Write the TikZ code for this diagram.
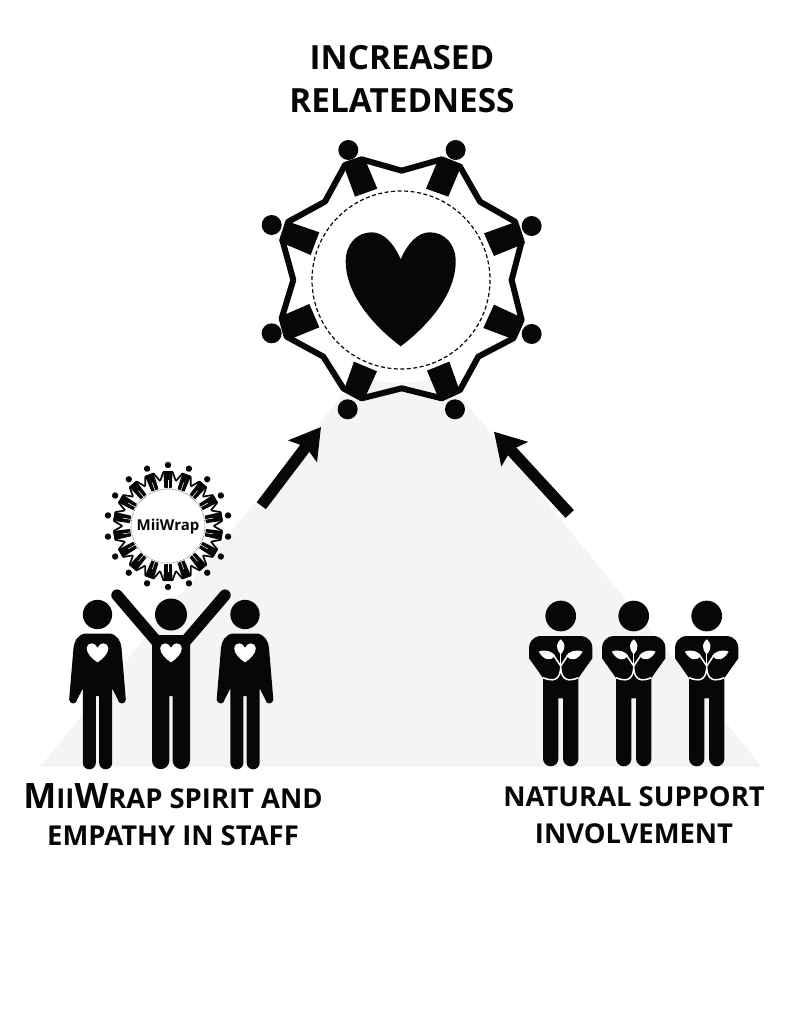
\documentclass[tikz,border=0pt]{standalone}
\usepackage{fontspec}
\setmainfont{Open Sans}
\usetikzlibrary{arrows.meta}
\definecolor{inkblack}{HTML}{060808}
\definecolor{paleback}{HTML}{F4F4F4}
\newcommand{\heartshape}{(0,0) .. controls (-7,-16) and (-17,-27) .. (-29,-27)
  .. controls (-44,-27) and (-55,-15) .. (-55,2)
  .. controls (-55,37) and (-24,69) .. (0,87)
  .. controls (24,69) and (55,37) .. (55,2)
  .. controls (55,-15) and (44,-27) .. (29,-27)
  .. controls (17,-27) and (7,-16) .. (0,0) -- cycle}
\tikzset{
  titletext/.style={font=\bfseries\fontsize{33.3}{43}\selectfont, align=center, text=inkblack},
  sidetext/.style={font=\bfseries\fontsize{27.4}{37}\selectfont, align=center, text=inkblack},
  thickarrow/.style={line width=11.5pt, inkblack, -{Stealth[length=30pt,width=35pt,inset=5pt]}},
  heartpic/.pic={\fill \heartshape;},
  staffman/.pic={
    \begin{scope}[scale=.3333]
    \fill (0,0) circle (44);
    \fill (-38,57) .. controls (-60,62) and (-70,80) .. (-72,100) -- (-85,255)
      arc[start angle=180, end angle=0, radius=12] -- (-44,222) -- (-44,445)
      arc[start angle=180, end angle=0, radius=19.5] -- (-5,245) -- (5,245) -- (5,445)
      arc[start angle=180, end angle=0, radius=19.5] -- (44,222) -- (61,255)
      arc[start angle=180, end angle=0, radius=12] -- (72,100)
      .. controls (70,80) and (60,62) .. (38,57) -- cycle;
    \fill[white, shift={(0,100)}, xscale=.59, yscale=.5] \heartshape;
    \end{scope}
  },
  cheerman/.pic={
    \begin{scope}[scale=.3333]
    \fill (0,0) circle (48);
    \draw[line width=11.5pt, line cap=round] (-162,-58) -- (-42,82);
    \draw[line width=11.5pt, line cap=round] (162,-58) -- (42,82);
    \fill (-57,62) -- (57,62) -- (57,438)
      arc[start angle=0, end angle=180, radius=26] -- (5,245) -- (-5,245) -- (-5,438)
      arc[start angle=0, end angle=180, radius=26] -- cycle;
    \fill[white, shift={(0,100)}, xscale=.59, yscale=.5] \heartshape;
    \end{scope}
  },
  plantman/.pic={
    \begin{scope}[scale=.3333]
    \fill (0,0) circle (46);
    \fill (-62,60) -- (62,60) .. controls (85,63) and (95,80) .. (95,95) -- (95,127) -- (53,186)
      -- (53,428) arc[start angle=0, end angle=180, radius=23] -- (7,247) -- (-7,247) -- (-7,428)
      arc[start angle=0, end angle=180, radius=23] -- (-53,186) -- (-95,127) -- (-95,95)
      .. controls (-95,80) and (-85,63) .. (-62,60) -- cycle;
    \begin{scope}[white]
      \fill (0,70) .. controls (12,80) and (18,95) .. (0,115) .. controls (-18,95) and (-12,80) .. (0,70) -- cycle;
      \fill (-66,107) .. controls (-45,98) and (-25,108) .. (-17,118) .. controls (-30,138) and (-50,133) .. (-66,107) -- cycle;
      \fill (66,107) .. controls (45,98) and (25,108) .. (17,118) .. controls (30,138) and (50,133) .. (66,107) -- cycle;
      \draw[line width=1.5pt] (0,105) -- (0,160);
      \draw[line width=1.5pt] (-20,120) -- (0,150) -- (20,120);
      \draw[line width=1.5pt] (-53,185) .. controls (-25,197) and (-2,195) .. (0,155)
        .. controls (2,195) and (25,197) .. (53,185);
    \end{scope}
    \end{scope}
  }
}
\begin{document}
\begin{tikzpicture}[x=1pt, y=-1pt]
  \useasboundingbox (0,0) rectangle (791,1024);
  % backdrop
  \fill[paleback] (40,767) -- (401,323) -- (762,767) -- cycle;
  \fill[white] (401,280) circle (103);

  % big ring
  \begin{scope}[shift={(250,130)}, x=.3333pt, y=-.3333pt, inkblack]
    \draw[line width=6pt, line join=round] (285,105) -- (335,88) -- (455,122) -- (575,88) -- (630,110) -- (690,215)
      -- (795,275) -- (815,335) -- (785,450) -- (815,570) -- (790,625) -- (685,680) -- (630,780)
      -- (575,805) -- (455,775) -- (335,805) -- (280,775) -- (220,680) -- (110,620) -- (95,565)
      -- (130,450) -- (97,330) -- (115,275) -- (225,215) -- cycle;
    \fill (280,105) -- (345,88) -- (382,176) -- (315,200) -- cycle;
    \fill (635,105) -- (565,88) -- (528,176) -- (595,200) -- cycle;
    \fill (800,275) -- (825,340) -- (732,378) -- (702,310) -- cycle;
    \fill (820,565) -- (795,630) -- (700,594) -- (732,524) -- cycle;
    \fill (630,785) -- (565,803) -- (531,722) -- (598,695) -- cycle;
    \fill (280,785) -- (345,803) -- (381,724) -- (312,695) -- cycle;
    \fill (90,560) -- (115,630) -- (208,592) -- (178,522) -- cycle;
    \fill (115,275) -- (88,335) -- (182,375) -- (208,307) -- cycle;
    \foreach \hx/\hy in {295/60, 617/60, 845/288, 845/612, 615/838, 293/838, 65/610, 65/285}
      \fill (\hx,\hy) circle (30);
  \end{scope}
  \draw[inkblack, line width=1.2pt, dash pattern=on 4pt off 2.5pt] (401,280) circle (89);
  \pic[inkblack] at (400.7,259.3) {heartpic};

  % small ring
  \begin{scope}[shift={(168,526)}, inkblack]
    \foreach \a in {0,20,...,340}{
      \begin{scope}[rotate=\a]
        \fill (0,-61) circle (3.2);
        \fill (-3.7,-38) -- (-4.6,-55) -- (4.6,-55) -- (3.7,-38) -- cycle;
        \draw[line width=1.7pt, line join=round] (-7.9,-45) -- (-4.6,-54) -- (4.6,-54) -- (7.9,-45);
        \draw[white, line width=.5pt] (0,-38) -- (0,-46);
      \end{scope}
    }
  \end{scope}
  \draw[inkblack, line width=.5pt, densely dotted] (168,526) circle (37);
  \node[font=\bfseries\fontsize{15}{15}\selectfont, text=inkblack] (ringname) at (168,527) {MiiWrap};

  % people
  \begin{scope}[inkblack]
    \pic at (97.5,614.5) {staffman};
    \pic at (171,614.5) {cheerman};
    \pic at (245,614.5) {staffman};
    \pic at (560.7,616) {plantman};
    \pic at (633.7,616) {plantman};
    \pic at (706.7,616) {plantman};
  \end{scope}

  % arrows
  \coordinate (leftfoot) at (261.3,505.7);
  \coordinate (lefttip) at (321,427);
  \coordinate (rightfoot) at (569.7,514);
  \coordinate (righttip) at (494,431.7);
  \draw[thickarrow] (leftfoot) -- (lefttip);
  \draw[thickarrow] (rightfoot) -- (righttip);

  % labels
  \node[titletext] (topname) at (402,79) {INCREASED\\RELATEDNESS};
  \node[sidetext] (leftname) at (173,815) {{\fontsize{35}{37}\selectfont M}{\fontsize{27.4}{37}\selectfont II}{\fontsize{35}{37}\selectfont W}RAP SPIRIT AND\\EMPATHY IN STAFF};
  \node[sidetext] (rightname) at (634,815) {NATURAL SUPPORT\\INVOLVEMENT};
\end{tikzpicture}
\end{document}
